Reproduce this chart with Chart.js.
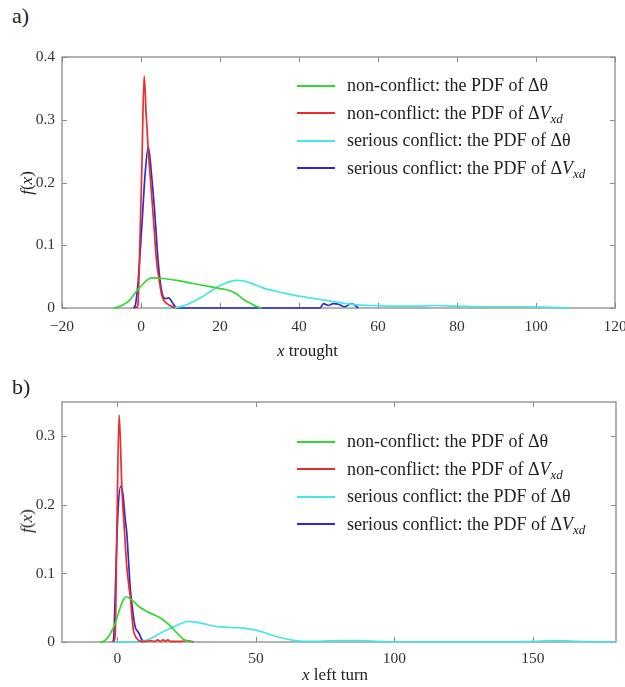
<!DOCTYPE html>
<html>
<head>
<meta charset="utf-8">
<script src="https://cdn.jsdelivr.net/npm/chart.js@4.4.0/dist/chart.umd.min.js"></script>
<style>
  body { margin: 0; background: #fff; }
  #wrap { position: relative; width: 625px; height: 687px; font-family: 'Liberation Serif', 'DejaVu Serif', serif; color: #222; }
  canvas { position: absolute; left: 0; }
  .panel { position: absolute; left: 12px; font-size: 22px; }
  .xt { position: absolute; font-size: 17px; white-space: nowrap; }
  .yt { position: absolute; font-size: 17px; white-space: nowrap; transform: translate(-50%, -50%) rotate(-90deg); }
  .legend { position: absolute; left: 297px; font-size: 18px; }
  .legend .row { display: flex; align-items: center; height: 27.5px; white-space: nowrap; }
  .legend .ln { width: 38px; height: 2px; margin-right: 12px; }
  .legend sub { font-size: 13px; font-style: italic; vertical-align: -4px; line-height: 0; }
</style>
</head>
<body>
<div id="wrap">
  <div class="panel" style="top:3px">a)</div>
  <canvas id="chartA" width="625" height="360" style="top:0"></canvas>
  <div class="xt" style="left:277px;top:341px"><i>x</i> trought</div>
  <div class="yt" style="left:27px;top:183px"><i>f</i>(<i>x</i>)</div>
  <div class="legend" id="legendA" style="top:72px"></div>

  <div class="panel" style="top:374px">b)</div>
  <canvas id="chartB" width="625" height="327" style="top:360px"></canvas>
  <div class="xt" style="left:302px;top:665px"><i>x</i> left turn</div>
  <div class="yt" style="left:27px;top:521px"><i>f</i>(<i>x</i>)</div>
  <div class="legend" id="legendB" style="top:428px"></div>
</div>

<script>
// Etiquetas y colores de las series (mismo orden en ambos paneles)
const seriesLabels = [
  'non-conflict: the PDF of Δθ',
  'non-conflict: the PDF of ΔVxd',
  'serious conflict: the PDF of Δθ',
  'serious conflict: the PDF of ΔVxd'
];
const seriesColors = ['#33d933', '#ee2a2a', '#45e6e6', '#2a2ad8'];

// Panel a) trought
const ticksXA = [-20, 0, 20, 40, 60, 80, 100, 120];
const ticksYA = [0, 0.1, 0.2, 0.3, 0.4];

const nonThetaXA = [-7, -6.2, -4.5, -2.8, -1.1, 0.6, 2.7, 5.6, 9, 13.2, 17.5, 20, 21.7, 23.8, 25.9, 27.2, 28.4, 29.5, 30.5];
const nonThetaYA = [0, 0.001, 0.005, 0.013, 0.027, 0.039, 0.048, 0.047, 0.044, 0.039, 0.034, 0.031, 0.029, 0.024, 0.014, 0.009, 0.005, 0.002, 0];

const nonVxdXA = [-1.5, -0.8, -0.3, 0.2, 0.8, 1.3, 1.85, 2.7, 3.4, 3.9, 4.6, 5.2, 5.8, 6.6, 7.6, 8.6];
const nonVxdYA = [0, 0.004, 0.1, 0.22, 0.37, 0.31, 0.25, 0.18, 0.12, 0.077, 0.045, 0.022, 0.012, 0.007, 0.003, 0];

const serThetaXA = [5.5, 7.5, 9, 11, 13.2, 15.5, 17.5, 19.2, 20.8, 22.5, 24.2, 26, 27.6, 29.7, 31.8, 34, 36, 39, 42.8, 46, 49, 52, 54.6, 58.6, 64, 70, 74, 80, 86.6, 92, 98, 104, 108.6];
const serThetaYA = [0, 0.0005, 0.001, 0.004, 0.01, 0.018, 0.026, 0.033, 0.038, 0.042, 0.044, 0.043, 0.04, 0.035, 0.03, 0.027, 0.024, 0.02, 0.016, 0.013, 0.01, 0.007, 0.005, 0.004, 0.003, 0.003, 0.004, 0.003, 0.002, 0.002, 0.002, 0.001, 0];

const serVxdXA = [-2, -1.5, -0.9, -0.3, 0.4, 1.0, 1.85, 2.7, 3.5, 4.3, 4.9, 5.5, 6.2, 7.0, 7.6, 8.3, 9.2, 45.3, 46.2, 47.4, 48.7, 50, 51.6, 53.3, 55];
const serVxdYA = [0, 0.003, 0.03, 0.08, 0.15, 0.21, 0.257, 0.21, 0.15, 0.077, 0.04, 0.02, 0.015, 0.016, 0.012, 0.005, 0, 0, 0.007, 0.004, 0.007, 0.006, 0.002, 0.007, 0];

// Panel b) left turn
const ticksXB = [0, 50, 100, 150];
const ticksYB = [0, 0.1, 0.2, 0.3];

const nonThetaXB = [-6.5, -5, -3.8, -2.6, -0.8, 1, 2.2, 3.4, 4.6, 6.4, 8, 10, 12, 13.6, 15.5, 17.2, 19, 20.8, 22.5, 23.8, 25.6, 27];
const nonThetaYB = [0, 0.001, 0.005, 0.012, 0.027, 0.05, 0.062, 0.066, 0.063, 0.057, 0.051, 0.046, 0.042, 0.039, 0.035, 0.03, 0.024, 0.016, 0.009, 0.004, 0.001, 0];

const nonVxdXB = [-1.6, -1.2, -0.8, -0.2, 0.6, 1.1, 1.6, 2.5, 3.4, 4.2, 4.8, 5.3, 5.8, 7, 8.5, 10.5, 12, 13.5, 14.5, 15.5, 16.5, 17.3, 18.2, 19.2, 21, 23, 25, 27.4];
const nonVxdYB = [0, 0.002, 0.01, 0.16, 0.331, 0.29, 0.226, 0.165, 0.109, 0.08, 0.061, 0.035, 0.017, 0.005, 0.001, 0.001, 0.002, 0.001, 0.003, 0.001, 0.003, 0.001, 0.003, 0.001, 0.001, 0.001, 0.002, 0];

const serThetaXB = [-2, 0, 5, 10, 13, 16, 18.5, 20.8, 23, 25.6, 28, 31.7, 35, 37.7, 42, 46.1, 49, 52.1, 55, 58.5, 61.5, 64.2, 67, 72, 80, 87, 94, 100, 120, 140, 150, 158, 166, 172, 180];
const serThetaYB = [0, 0, 0, 0.002, 0.007, 0.014, 0.019, 0.023, 0.027, 0.03, 0.029, 0.026, 0.023, 0.022, 0.021, 0.02, 0.018, 0.015, 0.011, 0.007, 0.004, 0.002, 0.001, 0.001, 0.002, 0.002, 0.001, 0, 0, 0, 0.001, 0.002, 0.001, 0, 0];

const serVxdXB = [-2, -1.4, -1.0, -0.5, 0.2, 1.2, 2.0, 2.8, 3.4, 4.0, 4.6, 5.4, 6.4, 7.2, 7.9, 8.7, 9.6];
const serVxdYB = [0, 0.003, 0.04, 0.109, 0.19, 0.227, 0.215, 0.18, 0.158, 0.12, 0.08, 0.05, 0.022, 0.016, 0.012, 0.004, 0];

const axisGray = '#8a8a8a';
const fontFam = "'Liberation Serif', 'DejaVu Serif', serif";

// Caja tipo MATLAB con marcas hacia dentro en los cuatro lados
const framePlugin = {
  id: 'frame',
  beforeDatasetsDraw(chart) {
    const { ctx, chartArea: a, scales } = chart;
    ctx.save();
    ctx.strokeStyle = axisGray;
    ctx.lineWidth = 1.3;
    ctx.strokeRect(a.left, a.top, a.right - a.left, a.bottom - a.top);
    ctx.lineWidth = 1;
    ctx.beginPath();
    scales.x.ticks.forEach(t => {
      const px = Math.round(scales.x.getPixelForValue(t.value)) + 0.5;
      ctx.moveTo(px, a.bottom); ctx.lineTo(px, a.bottom - 5);
      ctx.moveTo(px, a.top); ctx.lineTo(px, a.top + 5);
    });
    scales.y.ticks.forEach(t => {
      const py = Math.round(scales.y.getPixelForValue(t.value)) + 0.5;
      ctx.moveTo(a.left, py); ctx.lineTo(a.left + 5, py);
      ctx.moveTo(a.right, py); ctx.lineTo(a.right - 5, py);
    });
    ctx.stroke();
    ctx.restore();
  }
};

function toPoints(xs, ys) {
  return xs.map((x, i) => ({ x: x, y: ys[i] }));
}

function buildLegend(id) {
  const el = document.getElementById(id);
  seriesLabels.forEach((lab, i) => {
    const row = document.createElement('div');
    row.className = 'row';
    const html = lab.replace('ΔVxd', 'Δ<i>V</i><sub>xd</sub>');
    row.innerHTML = '<span class="ln" style="background:' + seriesColors[i] + '"></span><span>' + html + '</span>';
    el.appendChild(row);
  });
}

function makeChart(canvasId, series, xMin, xMax, xTicks, yMax, yTicks, box) {
  const ctx = document.getElementById(canvasId).getContext('2d');
  return new Chart(ctx, {
    type: 'line',
    data: {
      datasets: series.map((s, i) => ({
        label: seriesLabels[i],
        data: toPoints(s[0], s[1]),
        borderColor: seriesColors[i],
        borderWidth: 1.7,
        pointRadius: 0,
        fill: false,
        cubicInterpolationMode: 'monotone',
        clip: 3
      }))
    },
    options: {
      responsive: false,
      animation: false,
      layout: { padding: { top: box.top, right: box.right, left: 0, bottom: 0 } },
      plugins: { legend: { display: false }, tooltip: { enabled: false } },
      scales: {
        x: {
          type: 'linear',
          min: xMin,
          max: xMax,
          grid: { display: false, drawTicks: false },
          border: { display: false },
          afterBuildTicks: sc => { sc.ticks = xTicks.map(v => ({ value: v })); },
          afterFit: sc => { sc.height = box.xh; sc.paddingLeft = 0; sc.paddingRight = 0; },
          ticks: {
            color: '#333',
            padding: box.xpad,
            maxRotation: 0,
            font: { family: fontFam, size: 15.5 },
            callback: v => (v < 0 ? '\u2212' + Math.abs(v) : String(v))
          }
        },
        y: {
          min: 0,
          max: yMax,
          grid: { display: false, drawTicks: false },
          border: { display: false },
          afterBuildTicks: sc => { sc.ticks = yTicks.map(v => ({ value: v })); },
          afterFit: sc => { sc.width = 62; sc.paddingTop = 0; sc.paddingBottom = 0; },
          ticks: {
            color: '#333',
            padding: 7,
            font: { family: fontFam, size: 15.5 },
            callback: v => (v === 0 ? '0' : v.toFixed(1))
          }
        }
      }
    },
    plugins: [framePlugin]
  });
}

document.addEventListener('DOMContentLoaded', function() {
  makeChart('chartA', [
    [nonThetaXA, nonThetaYA],
    [nonVxdXA, nonVxdYA],
    [serThetaXA, serThetaYA],
    [serVxdXA, serVxdYA]
  ], -20, 120, ticksXA, 0.4, ticksYA, { top: 57, right: 10, xh: 52, xpad: 10 });

  makeChart('chartB', [
    [nonThetaXB, nonThetaYB],
    [nonVxdXB, nonVxdYB],
    [serThetaXB, serThetaYB],
    [serVxdXB, serVxdYB]
  ], -20, 180, ticksXB, 0.35, ticksYB, { top: 42, right: 9, xh: 45, xpad: 8 });

  buildLegend('legendA');
  buildLegend('legendB');
});
</script>
</body>
</html>
